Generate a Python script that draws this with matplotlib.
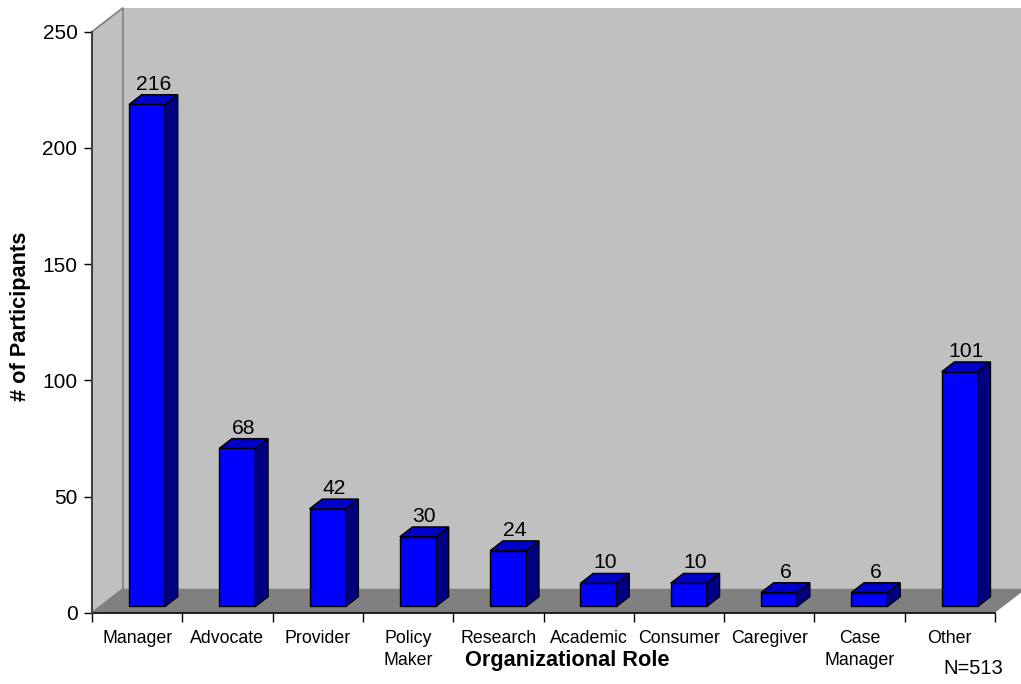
import matplotlib
matplotlib.use("Agg")
import matplotlib.pyplot as plt
from matplotlib.patches import Polygon

plt.rcParams['font.family'] = ['Liberation Sans', 'DejaVu Sans']

# survey counts by organizational role
roles = ['Manager', 'Advocate', 'Provider', 'Policy\nMaker', 'Research',
         'Academic', 'Consumer', 'Caregiver', 'Case\nManager', 'Other']
counts = [216, 68, 42, 30, 24, 10, 10, 6, 6, 101]
n_total = 513

# pseudo-3d geometry (data units)
DX, DY = 0.343, 10.3      # full depth offset of the walls
F0, F1 = 0.26, 0.67       # bar front / back depth fractions
BW = 0.40                 # bar width

fig = plt.figure(figsize=(10.21, 6.84), dpi=100)
W, H = 1021, 684
ax = fig.add_axes([92 / W, (H - 612.7) / H, 903 / W, 581 / H])
ax.set_xlim(0, 10)
ax.set_ylim(0, 250)
ax.patch.set_visible(False)

ncat = len(roles)
# back wall, left wall, floor
ax.add_patch(Polygon([(DX, DY), (ncat + DX, DY), (ncat + DX, 250 + DY), (DX, 250 + DY)],
                     closed=True, fc='#c0c0c0', ec='none', clip_on=False, zorder=0))
ax.add_patch(Polygon([(0, 0), (DX, DY), (DX, 250 + DY), (0, 250)],
                     closed=True, fc='#c0c0c0', ec='#808080', lw=1.2, clip_on=False, zorder=0.5))
ax.add_patch(Polygon([(0, 0), (ncat, 0), (ncat + DX, DY), (DX, DY)],
                     closed=True, fc='#808080', ec='none', clip_on=False, zorder=0.6))

d = F1 - F0
for i, v in enumerate(counts):
    x0 = i + 0.5 - BW / 2 + F0 * DX + 0.02
    x1 = x0 + BW
    y0 = F0 * DY
    y1 = v + y0
    ax.bar(x0, v, width=BW, bottom=y0, align='edge', color='#0000ff',
           edgecolor='black', linewidth=1, zorder=3, clip_on=False)
    ax.add_patch(Polygon([(x0, y1), (x1, y1), (x1 + d * DX, y1 + d * DY), (x0 + d * DX, y1 + d * DY)],
                         closed=True, fc='#0000c8', ec='black', lw=1, zorder=3, clip_on=False))
    ax.add_patch(Polygon([(x1, y0), (x1 + d * DX, y0 + d * DY), (x1 + d * DX, y1 + d * DY), (x1, y1)],
                         closed=True, fc='#000080', ec='black', lw=1, zorder=3, clip_on=False))
    ax.text((x0 + x1 + d * DX) / 2, y1 + d * DY + 2.2, str(v), ha='center', va='baseline',
            fontsize=15.2, zorder=4)

# axes styling
for s in ['top', 'right']:
    ax.spines[s].set_visible(False)
ax.spines['left'].set_color('#404040')
ax.spines['left'].set_linewidth(1.5)
ax.spines['bottom'].set_color('black')
ax.spines['bottom'].set_linewidth(1.2)
ax.spines['bottom'].set_zorder(2)

ax.set_yticks(range(0, 251, 50))
ax.tick_params(axis='y', direction='out', length=6, width=1, pad=4.5, labelsize=15)

ax.set_xticks(range(0, ncat + 1))
ax.set_xticklabels([])
ax.set_xticks([i + 0.5 for i in range(ncat)], minor=True)
ax.set_xticklabels(roles, minor=True)
ax.tick_params(axis='x', which='major', direction='out', length=6.5, width=1)
ax.tick_params(axis='x', which='minor', length=0, pad=12.2, labelsize=12.8)
for lbl in ax.get_xticklabels(minor=True):
    lbl.set_linespacing(1.4)
    lbl.set_verticalalignment('top')

ax.set_xlabel('Organizational Role', fontsize=15.7, fontweight='bold', va='center')
ax.xaxis.set_label_coords(0.526, -0.083)
ax.set_ylabel('# of Participants', fontsize=15.7, fontweight='bold', va='center')
ax.yaxis.set_label_coords(-0.0797, 0.51)

ax.text(0.976, -0.096, f'N={n_total}', transform=ax.transAxes, ha='center', va='center',
        fontsize=14.5)

fig.savefig('out.png', dpi=100, facecolor='white')
